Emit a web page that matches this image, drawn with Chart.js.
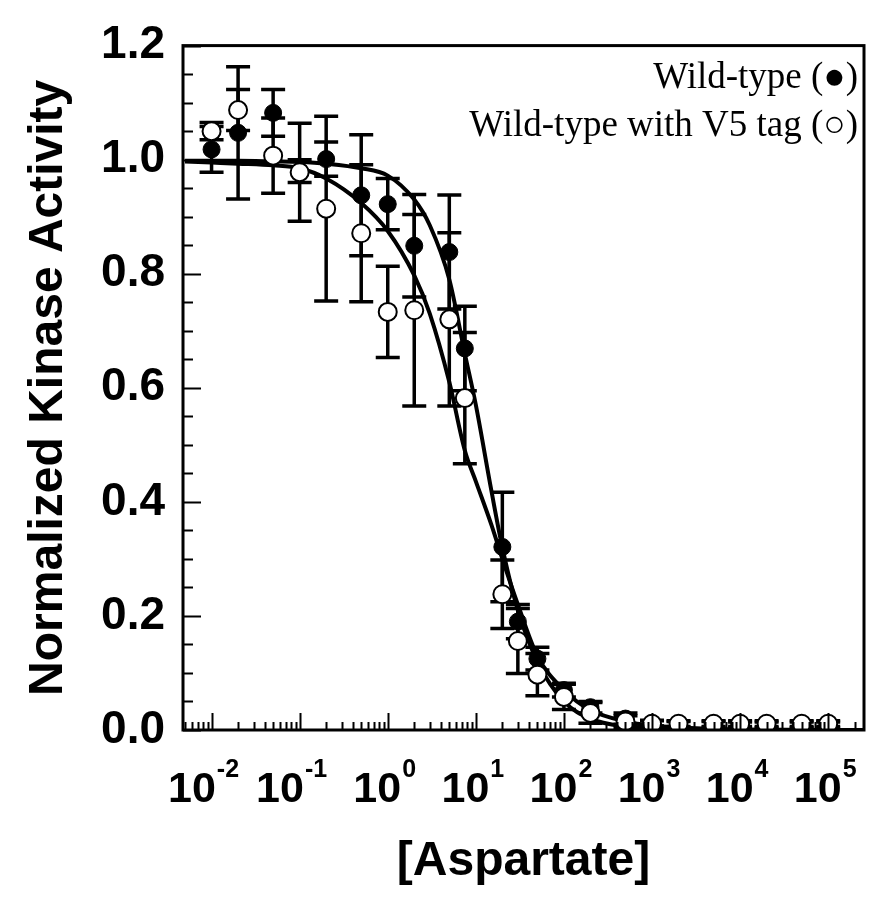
<!DOCTYPE html>
<html>
<head>
<meta charset="utf-8">
<script src="https://cdn.jsdelivr.net/npm/chart.js@4.4.1/dist/chart.umd.min.js"></script>
<style>
    html, body { margin: 0; padding: 0; background: #fff; }
</style>
</head>
<body>
<canvas id="kinaseCanvas" width="875" height="901"></canvas>
<script>
// [Aspartate] concentrations of the measured points
const aspartate = [0.01, 0.02, 0.05, 0.1, 0.2, 0.5, 1, 2, 5, 7.5, 20, 30, 50, 100, 200, 500, 1000, 2000, 5000, 10000, 20000, 50000, 100000];

// Wild-type (filled circles)
const wildType    = [1.018, 1.047, 1.082, 0.98, 1.001, 0.9375, 0.922, 0.849, 0.838, 0.669, 0.321, 0.19, 0.125, 0.07, 0.04, 0.02, 0.012, 0.01, 0.01, 0.009, 0.009, 0.009, 0.009];
const wildTypeErr = [0.04, 0.116, 0.041, 0.02, 0.03, 0.106, 0.045, 0.09, 0.10, 0.074, 0.096, 0.03, 0.02, 0.012, 0.01, 0.01, 0.005, 0.005, 0.005, 0.005, 0.005, 0.005, 0.005];

// Wild-type with V5 tag (open circles)
const v5Tag    = [1.05, 1.087, 1.007, 0.978, 0.914, 0.871, 0.733, 0.736, 0.72, 0.582, 0.238, 0.156, 0.097, 0.058, 0.03, 0.015, 0.011, 0.011, 0.011, 0.011, 0.011, 0.011, 0.011];
const v5TagErr = [0.015, 0.036, 0.066, 0.086, 0.162, 0.12, 0.08, 0.168, 0.152, 0.115, 0.06, 0.057, 0.037, 0.022, 0.018, 0.01, 0.005, 0.005, 0.005, 0.005, 0.005, 0.005, 0.005];

// fitted curves
const fitX         = [0.005, 0.01, 0.02, 0.05, 0.1, 0.2, 0.5, 1, 2, 3, 5, 7.5, 10, 15, 20, 30, 50, 100, 200, 500, 1000, 10000, 250000];
const wildTypeFit  = [0.998, 0.998, 0.998, 0.997, 0.996, 0.993, 0.985, 0.972, 0.93, 0.885, 0.79, 0.66, 0.57, 0.42, 0.32, 0.21, 0.12, 0.05, 0.02, 0.006, 0.003, 0.0, 0.0];
const v5TagFit     = [0.997, 0.995, 0.993, 0.99, 0.985, 0.967, 0.924, 0.875, 0.797, 0.73, 0.61, 0.49, 0.436, 0.36, 0.30, 0.22, 0.13, 0.07, 0.035, 0.015, 0.008, 0.001, 0.0];

// axis tick labels
const xDecades = [-2, -1, 0, 1, 2, 3, 4, 5];
const legendLines = ['Wild-type (\u25CF)', 'Wild-type with V5 tag (\u25CB)'];

const SANS = '"Liberation Sans", Arial, sans-serif';
const SERIF = '"Liberation Serif", "Times New Roman", serif';

const toPoints = (xs, ys) => xs.map((x, i) => ({ x: x, y: ys[i] }));

// error bars, drawn under the markers
const errorBars = {
    id: 'errorBars',
    beforeDatasetsDraw(chart) {
        const { ctx, chartArea, scales: { x, y } } = chart;
        ctx.save();
        ctx.beginPath();
        ctx.rect(chartArea.left, chartArea.top, chartArea.right - chartArea.left, chartArea.bottom - chartArea.top);
        ctx.clip();
        ctx.strokeStyle = '#000';
        ctx.lineWidth = 3.5;
        [[wildType, wildTypeErr], [v5Tag, v5TagErr]].forEach(([vals, errs]) => {
            vals.forEach((v, i) => {
                const px = x.getPixelForValue(aspartate[i]);
                const top = y.getPixelForValue(v + errs[i]);
                const bot = y.getPixelForValue(v - errs[i]);
                ctx.beginPath();
                ctx.moveTo(px, top); ctx.lineTo(px, bot);
                ctx.moveTo(px - 12, top); ctx.lineTo(px + 12, top);
                ctx.moveTo(px - 12, bot); ctx.lineTo(px + 12, bot);
                ctx.stroke();
            });
        });
        ctx.restore();
    }
};

// frame, inward ticks, 10^n labels and the text legend
const frameAndLabels = {
    id: 'frameAndLabels',
    afterDraw(chart) {
        const { ctx, chartArea: a, scales: { x, y } } = chart;
        ctx.save();
        ctx.strokeStyle = '#000';
        ctx.lineWidth = 3;
        ctx.strokeRect(a.left, a.top, a.right - a.left, a.bottom - a.top);

        // y ticks every 0.05, long at every 0.2
        ctx.lineWidth = 2;
        ctx.beginPath();
        for (let k = 0; k <= 24; k++) {
            const py = Math.round(y.getPixelForValue(k * 0.05)) + 0.5;
            const len = k % 4 === 0 ? 18 : 10;
            ctx.moveTo(a.left, py);
            ctx.lineTo(a.left + len, py);
        }
        // x ticks, log minors
        for (let d = -3; d <= 5; d++) {
            for (let m = 1; m <= 9; m++) {
                const v = m * Math.pow(10, d);
                if (v < x.min || v > x.max) continue;
                const px = Math.round(x.getPixelForValue(v)) + 0.5;
                const len = m === 1 ? 17 : 8;
                ctx.moveTo(px, a.bottom);
                ctx.lineTo(px, a.bottom - len);
            }
        }
        ctx.stroke();

        // decade labels with superscript exponents
        ctx.fillStyle = '#000';
        ctx.textBaseline = 'alphabetic';
        ctx.textAlign = 'left';
        xDecades.forEach(e => {
            const px = x.getPixelForValue(Math.pow(10, e));
            ctx.font = 'bold 43px ' + SANS;
            const w1 = ctx.measureText('10').width;
            ctx.font = 'bold 25px ' + SANS;
            const expText = String(e);
            const w2 = ctx.measureText(expText).width;
            const shift = e < 0 ? 8 : 3;
            const start = px - (w1 + w2 + 1) / 2 - shift;
            ctx.font = 'bold 43px ' + SANS;
            ctx.fillText('10', start, 802);
            ctx.font = 'bold 25px ' + SANS;
            ctx.fillText(expText, start + w1 + 1, 777);
        });

        // legend text
        ctx.font = '37px ' + SERIF;
        ctx.textAlign = 'right';
        ctx.fillText(legendLines[0], a.right - 6, 88);
        ctx.fillText(legendLines[1], a.right - 6, 136);
        ctx.restore();
    }
};

const config = {
    type: 'scatter',
    data: {
        datasets: [
            {
                label: 'Wild-type with V5 tag',
                data: toPoints(aspartate, v5Tag),
                pointRadius: 9,
                pointBackgroundColor: '#fff',
                pointBorderColor: '#000',
                pointBorderWidth: 2,
                order: 0
            },
            {
                label: 'Wild-type',
                data: toPoints(aspartate, wildType),
                pointRadius: 8.5,
                pointBackgroundColor: '#000',
                pointBorderColor: '#000',
                pointBorderWidth: 1,
                order: 1
            },
            {
                label: 'Wild-type fit',
                data: toPoints(fitX, wildTypeFit),
                showLine: true,
                pointRadius: 0,
                borderColor: '#000',
                borderWidth: 4,
                cubicInterpolationMode: 'monotone',
                order: 2
            },
            {
                label: 'V5 tag fit',
                data: toPoints(fitX, v5TagFit),
                showLine: true,
                pointRadius: 0,
                borderColor: '#000',
                borderWidth: 4,
                cubicInterpolationMode: 'monotone',
                order: 3
            }
        ]
    },
    options: {
        responsive: false,
        animation: false,
        layout: { padding: { top: 39, right: 7, bottom: 0, left: 0 } },
        plugins: {
            legend: { display: false },
            tooltip: { enabled: false }
        },
        scales: {
            x: {
                type: 'logarithmic',
                min: 0.00474,
                max: 255000,
                grid: { display: false, drawTicks: false },
                border: { display: false },
                ticks: { display: false },
                title: {
                    display: true,
                    text: '[Aspartate]',
                    color: '#000',
                    font: { family: SANS, size: 48, weight: 'bold' },
                    padding: { top: 0, bottom: 10 }
                },
                afterFit(scale) { scale.height = 171; }
            },
            y: {
                min: 0,
                max: 1.2,
                grid: { display: false, drawTicks: false },
                border: { display: false },
                ticks: {
                    stepSize: 0.2,
                    color: '#000',
                    padding: 18,
                    font: { family: SANS, size: 46, weight: 'bold' },
                    callback: v => v.toFixed(1)
                },
                title: {
                    display: true,
                    text: 'Normalized Kinase Activity',
                    color: '#000',
                    font: { family: SANS, size: 48, weight: 'bold' },
                    padding: { top: 20, bottom: 0 }
                },
                afterFit(scale) { scale.width = 183; }
            }
        }
    },
    plugins: [errorBars, frameAndLabels]
};

new Chart(document.getElementById('kinaseCanvas').getContext('2d'), config);
</script>
</body>
</html>
